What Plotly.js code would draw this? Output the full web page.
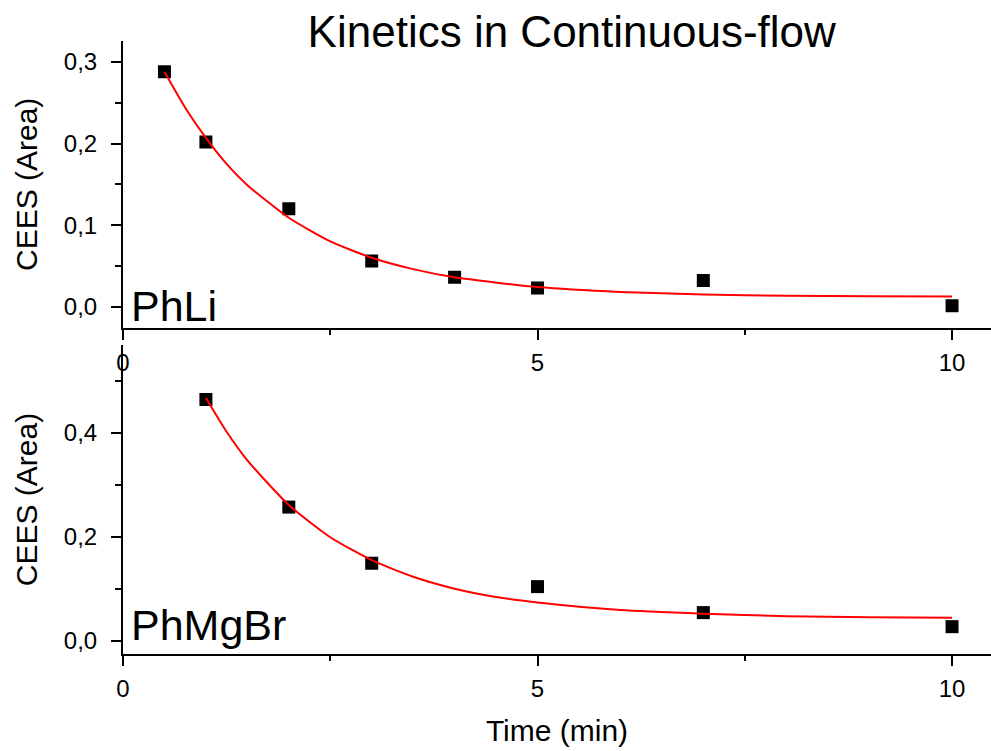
<!DOCTYPE html>
<html>
<head>
<meta charset="utf-8">
<script src="https://cdn.plot.ly/plotly-3.0.1.min.js"></script>
<style>html,body{margin:0;padding:0;background:#fff;}#chart{width:991px;height:751px;}</style>
</head>
<body>
<div id="chart"></div>
<script>
// ---- data ----
var phliTime = [0.5, 1, 2, 3, 4, 5, 7, 10];
var phliCEES = [0.288, 0.202, 0.120, 0.056, 0.036, 0.023, 0.032, 0.001];
var phliFitTime = [0.5, 0.75, 1, 1.25, 1.5, 2, 2.5, 3, 3.5, 4, 5, 6, 7, 8, 9, 10];
var phliFitCEES = [0.288, 0.244, 0.207, 0.175, 0.149, 0.109, 0.080, 0.060, 0.046, 0.036, 0.024, 0.018, 0.015, 0.0134, 0.0127, 0.0124];

var phmgTime = [1, 2, 3, 5, 7, 10];
var phmgCEES = [0.464, 0.257, 0.149, 0.104, 0.054, 0.027];
var phmgFitTime = [1, 1.25, 1.5, 2, 2.5, 3, 3.5, 4, 4.5, 5, 6, 7, 8, 9, 10];
var phmgFitCEES = [0.467, 0.402, 0.347, 0.261, 0.199, 0.155, 0.123, 0.100, 0.084, 0.0735, 0.059, 0.052, 0.047, 0.045, 0.044];

var xTickVals = [0, 5, 10];
var chartTitle = 'Kinetics in Continuous-flow';
var yTitle = 'CEES (Area)';
var xTitle = 'Time (min)';
var panelLabels = ['PhLi', 'PhMgBr'];

var FONT = 'Arial, "Liberation Sans", sans-serif';

var markerStyle = {symbol: 'square', size: 13, color: '#000000', line: {width: 0}};
var lineStyle = {color: '#ff0000', width: 2, shape: 'spline', smoothing: 0.6};

var traces = [
  {x: phliTime, y: phliCEES, xaxis: 'x', yaxis: 'y', mode: 'markers', marker: markerStyle, showlegend: false, hoverinfo: 'x+y'},
  {x: phliFitTime, y: phliFitCEES, xaxis: 'x', yaxis: 'y', mode: 'lines', line: lineStyle, showlegend: false},
  {x: phmgTime, y: phmgCEES, xaxis: 'x2', yaxis: 'y2', mode: 'markers', marker: markerStyle, showlegend: false},
  {x: phmgFitTime, y: phmgFitCEES, xaxis: 'x2', yaxis: 'y2', mode: 'lines', line: lineStyle, showlegend: false}
];

function xAxis(anchor, withTitle) {
  var a = {
    anchor: anchor, domain: [0, 1], range: [0, 10.47],
    tickvals: xTickVals, ticks: 'outside', ticklen: 10, tickwidth: 2, tickcolor: '#000',
    minor: {dtick: 2.5, tick0: 0, ticks: 'outside', ticklen: 5, tickwidth: 2, tickcolor: '#000'},
    showline: true, linecolor: '#000', linewidth: 2, mirror: false,
    showgrid: false, zeroline: false,
    tickfont: {family: FONT, size: 24, color: '#000'},
    ticklabelstandoff: 2
  };
  if (withTitle) a.title = {text: xTitle, font: {family: FONT, size: 30, color: '#000'}, standoff: 19};
  return a;
}
function yAxis(anchor, domain, range, dtick, minorDtick) {
  return {
    anchor: anchor, domain: domain, range: range,
    dtick: dtick, tick0: 0, tickformat: '.1f',
    ticks: 'outside', ticklen: 10, tickwidth: 2, tickcolor: '#000',
    minor: {dtick: minorDtick, tick0: 0, ticks: 'outside', ticklen: 6, tickwidth: 2, tickcolor: '#000'},
    showline: true, linecolor: '#000', linewidth: 2, mirror: false,
    showgrid: false, zeroline: false,
    tickfont: {family: FONT, size: 24, color: '#000'},
    ticklabelstandoff: 9,
    title: {text: yTitle, font: {family: FONT, size: 30, color: '#000'}, standoff: 17}
  };
}

var layout = {
  width: 991, height: 751,
  margin: {l: 123, r: 0, t: 41, b: 97},
  paper_bgcolor: '#ffffff', plot_bgcolor: '#ffffff',
  separators: ',.',
  font: {family: FONT, color: '#000'},
  showlegend: false,
  title: {text: chartTitle, font: {family: FONT, size: 44, color: '#000'},
          xref: 'paper', x: 0.517, xanchor: 'center', yref: 'container', y: 0.958, yanchor: 'middle'},
  xaxis: xAxis('y', false),
  yaxis: yAxis('x', [0.5323, 1], [-0.0258, 0.3258], 0.1, 0.05),
  xaxis2: xAxis('y2', true),
  yaxis2: yAxis('x2', [0, 0.504], [-0.0256, 0.5687], 0.2, 0.1),
  annotations: [
    {text: panelLabels[0], xref: 'x domain', yref: 'y domain', x: 0.008, y: 0.076, xanchor: 'left', yanchor: 'middle',
     showarrow: false, borderpad: 0, font: {family: FONT, size: 43, color: '#000'}},
    {text: panelLabels[1], xref: 'x2 domain', yref: 'y2 domain', x: 0.008, y: 0.094, xanchor: 'left', yanchor: 'middle',
     showarrow: false, borderpad: 0, font: {family: FONT, size: 43, color: '#000'}}
  ]
};

Plotly.newPlot('chart', traces, layout, {staticPlot: true, displayModeBar: false});
</script>
</body>
</html>
